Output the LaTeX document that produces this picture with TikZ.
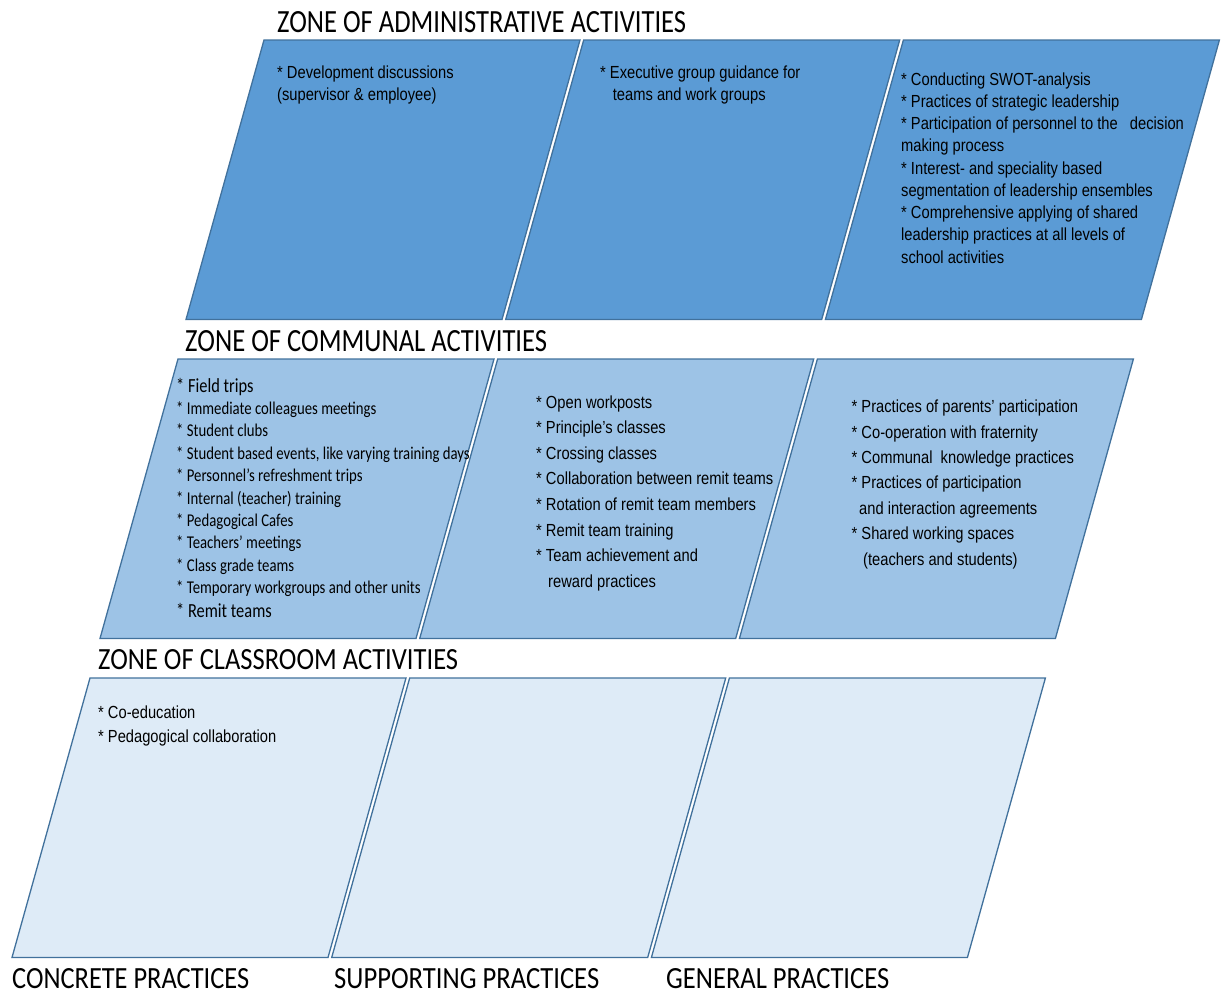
\documentclass[tikz,border=0pt]{standalone}
\usepackage{graphicx}
\usepackage{fontspec}
\setmainfont{Liberation Sans}
\newfontfamily\bodyfont[FakeStretch=0.84]{Liberation Sans}
\newfontfamily\calfont[FakeStretch=0.82]{Carlito}
\newfontfamily\titlefont{Carlito}
\definecolor{admfill}{HTML}{5B9BD5}
\definecolor{comfill}{HTML}{9DC3E6}
\definecolor{clsfill}{HTML}{DEEBF7}
\definecolor{zoneedge}{HTML}{41719C}
\begin{document}
\begin{tikzpicture}[x=1pt,y=-1pt,
  zone/.style={draw=zoneedge,line width=1.3pt,line join=miter},
  body/.style={font=\bodyfont\fontsize{17.5}{21}\selectfont,inner sep=0pt,anchor=base west,text=black},
  cbody/.style={font=\calfont\fontsize{18}{21}\selectfont,inner sep=0pt,anchor=base west,text=black},
  cbig/.style={font=\calfont\fontsize{20}{23}\selectfont,inner sep=0pt,anchor=base west,text=black},
  ztitle/.style={inner sep=0pt,anchor=base west,text=black}]
\useasboundingbox (0,0) rectangle (1224,993);
% parallelograms
\foreach \r/\ytop/\xl/\col in {1/40/264/admfill,2/359/178/comfill,3/678/90/clsfill}{
  \foreach \c in {0,1,2}{
    \path[zone,fill=\col] ({\xl+319.7*\c},\ytop) -- ++(316,0) -- ++(-78,279.5) -- ++(-316,0) -- cycle;
  }
}
% titles
\node[ztitle] (tadm) at (277,32) {\resizebox{409pt}{21pt}{\titlefont ZONE OF ADMINISTRATIVE ACTIVITIES}};
\node[ztitle] (tcom) at (185,351) {\resizebox{362pt}{21pt}{\titlefont ZONE OF COMMUNAL ACTIVITIES}};
\node[ztitle] (tcls) at (98,669.5) {\resizebox{360pt}{20pt}{\titlefont ZONE OF CLASSROOM ACTIVITIES}};
\node[ztitle] (tcon) at (12,988) {\resizebox{237pt}{20pt}{\titlefont CONCRETE PRACTICES}};
\node[ztitle] (tsup) at (334,988) {\resizebox{265pt}{20pt}{\titlefont SUPPORTING PRACTICES}};
\node[ztitle] (tgen) at (666,988) {\resizebox{223pt}{20pt}{\titlefont GENERAL PRACTICES}};
% administrative zone texts
\node[body] (a1-0) at (277,78) {* Development discussions};
\node[body] (a1-1) at (277,100) {(supervisor \& employee)};
\node[body] (a2-0) at (600,78) {* Executive group guidance for};
\node[body] (a2-1) at (612.7,100) {teams and work groups};
\foreach \txt [count=\i from 0] in {
  {* Conducting SWOT-analysis},
  {* Practices of strategic leadership},
  {* Participation of personnel to the\ \ \ decision},
  {making\ process},
  {* Interest- and speciality based},
  {segmentation of leadership ensembles},
  {* Comprehensive applying\ of shared},
  {leadership practices at all\ levels of},
  {school activities}}{
  \node[body] (a3-\i) at (901,{85+22.25*\i}) {\txt};
}
% communal zone texts
\node[cbig] (c1-0) at (176,392) {* Field trips};
\foreach \txt [count=\i from 1] in {
  {* Immediate colleagues meetings},
  {* Student clubs},
  {* Student based events, like varying training days},
  {* Personnel’s refreshment\ trips},
  {* Internal (teacher) training},
  {* Pedagogical Cafes},
  {* Teachers’ meetings},
  {* Class grade teams},
  {* Temporary workgroups and other units}}{
  \node[cbody] (c1-\i) at (176,{392+22.4*\i}) {\txt};
}
\node[cbig] (c1-10) at (176,617) {* Remit teams};
\foreach \dx/\txt [count=\i from 0] in {
  0/{* Open workposts},
  0/{* Principle’s classes},
  0/{* Crossing classes},
  0/{* Collaboration between remit teams},
  0/{* Rotation of remit team members},
  0/{* Remit team training},
  0/{* Team achievement and},
  12/{reward practices}}{
  \node[body] (c2-\i) at ({536+\dx},{408+25.6*\i}) {\txt};
}
\foreach \dx/\txt [count=\i from 0] in {
  0/{* Practices of parents’ participation},
  0/{* Co-operation with fraternity},
  0/{* Communal\ \ knowledge\ practices},
  0/{* Practices of participation},
  7.5/{and\ interaction agreements},
  0/{* Shared working\ spaces},
  11.5/{(teachers and students)}}{
  \node[body] (c3-\i) at ({851.5+\dx},{412.7+25.4*\i}) {\txt};
}
% classroom zone texts
\node[body] (k1-0) at (98,718) {* Co-education};
\node[body] (k1-1) at (98,742) {* Pedagogical collaboration};
\end{tikzpicture}
\end{document}
